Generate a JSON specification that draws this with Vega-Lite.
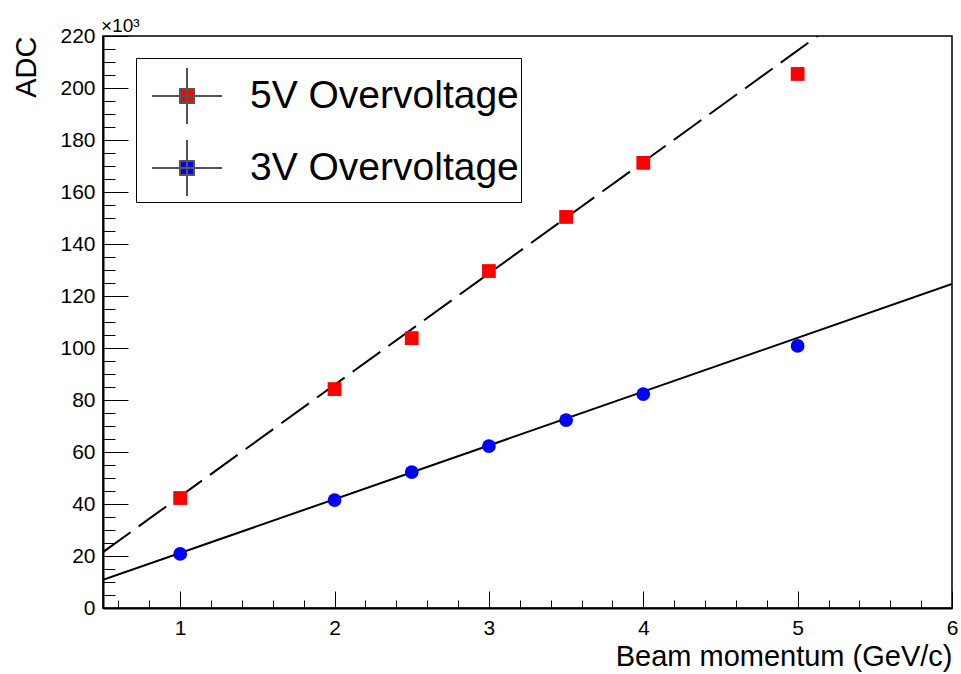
{
  "$schema": "https://vega.github.io/schema/vega-lite/v6.json",
  "width": 849,
  "height": 572,
  "autosize": {"type": "none"},
  "padding": {"left": 103, "top": 36, "right": 9, "bottom": 66},
  "background": "white",
  "title": {"text": "×10³", "anchor": "start", "frame": "group", "fontSize": 19, "font": "Liberation Sans", "fontWeight": "normal", "baseline": "alphabetic", "offset": 4, "dx": -2, "dy": 30, "color": "black"},
  "config": {"view": {"stroke": "black", "strokeWidth": 1.5}, "font": "Liberation Sans"},
  "datasets": {
    "points": [
      {"series": "5V Overvoltage", "x": 1, "y": 42.3},
      {"series": "5V Overvoltage", "x": 2, "y": 84.2},
      {"series": "5V Overvoltage", "x": 2.5, "y": 103.8},
      {"series": "5V Overvoltage", "x": 3, "y": 129.6},
      {"series": "5V Overvoltage", "x": 3.5, "y": 150.4},
      {"series": "5V Overvoltage", "x": 4, "y": 171.2},
      {"series": "5V Overvoltage", "x": 5, "y": 205.4},
      {"series": "3V Overvoltage", "x": 1, "y": 20.8},
      {"series": "3V Overvoltage", "x": 2, "y": 41.5},
      {"series": "3V Overvoltage", "x": 2.5, "y": 52.3},
      {"series": "3V Overvoltage", "x": 3, "y": 62.3},
      {"series": "3V Overvoltage", "x": 3.5, "y": 72.3},
      {"series": "3V Overvoltage", "x": 4, "y": 82.3},
      {"series": "3V Overvoltage", "x": 5, "y": 100.8}
    ],
    "fits": [
      {"series": "5V Overvoltage", "x": 0.5, "y": 21.5},
      {"series": "5V Overvoltage", "x": 5.13, "y": 220},
      {"series": "3V Overvoltage", "x": 0.5, "y": 10.8},
      {"series": "3V Overvoltage", "x": 6, "y": 124.6}
    ]
  },
  "encoding": {
    "x": {
      "field": "x", "type": "quantitative",
      "scale": {"domain": [0.5, 6], "nice": false, "zero": false},
      "axis": {
        "title": "Beam momentum (GeV/c)",
        "values": [0.6, 0.8, 1, 1.2, 1.4, 1.6, 1.8, 2, 2.2, 2.4, 2.6, 2.8, 3, 3.2, 3.4, 3.6, 3.8, 4, 4.2, 4.4, 4.6, 4.8, 5, 5.2, 5.4, 5.6, 5.8, 6],
        "labelExpr": "datum.value % 1 === 0 ? format(datum.value, 'd') : ''",
        "tickSize": {"condition": {"test": "datum.value % 1 === 0", "value": -17}, "value": -8},
        "tickColor": "black", "tickWidth": 1,
        "domainColor": "black", "domainWidth": 2,
        "labelFontSize": 21, "labelPadding": 26, "labelColor": "black", "labelFlush": false, "labelOverlap": false,
        "titleFontSize": 29, "titleFontWeight": "normal", "titleColor": "black",
        "titleX": 849, "titleY": 57, "titleAlign": "right", "titleAnchor": "end", "titleBaseline": "alphabetic",
        "grid": false
      }
    },
    "y": {
      "field": "y", "type": "quantitative",
      "scale": {"domain": [0, 220], "nice": false, "zero": false},
      "axis": {
        "title": "ADC",
        "values": [0, 5, 10, 15, 20, 25, 30, 35, 40, 45, 50, 55, 60, 65, 70, 75, 80, 85, 90, 95, 100, 105, 110, 115, 120, 125, 130, 135, 140, 145, 150, 155, 160, 165, 170, 175, 180, 185, 190, 195, 200, 205, 210, 215, 220],
        "labelExpr": "datum.value % 20 === 0 ? format(datum.value, 'd') : ''",
        "tickSize": {"condition": {"test": "datum.value % 20 === 0", "value": -25}, "value": -12},
        "tickColor": "black", "tickWidth": 1,
        "domainColor": "black", "domainWidth": 2,
        "labelFontSize": 21, "labelPadding": 33, "labelColor": "black", "labelFlush": false, "labelOverlap": false,
        "titleFontSize": 29, "titleFontWeight": "normal", "titleColor": "black",
        "titleX": -68, "titleY": 0, "titleAngle": -90, "titleAlign": "right", "titleAnchor": "end", "titleBaseline": "alphabetic",
        "grid": false
      }
    },
    "color": {
      "field": "series", "type": "nominal",
      "scale": {"domain": ["5V Overvoltage", "3V Overvoltage"], "range": ["#ff0000", "#0000ff"]},
      "legend": {
        "orient": "none", "legendX": 33, "legendY": 22, "title": null,
        "padding": 2, "strokeColor": "black", "fillColor": "white",
        "labelFontSize": 39, "labelFont": "Liberation Sans", "labelColor": "black", "labelOffset": 27, "labelLimit": 600,
        "rowPadding": 4, "symbolSize": 4900, "symbolOffset": 13,
        "symbolType": "M-1,0H1M0,-0.8V0.8M-0.2,-0.2H0.2V0.2H-0.2Z",
        "symbolStrokeColor": "#555555", "symbolStrokeWidth": 2, "symbolOpacity": 1,
        "labelExpr": "datum.label + '   '"
      }
    }
  },
  "layer": [
    {
      "data": {"name": "fits"},
      "transform": [{"filter": "datum.series === '5V Overvoltage'"}],
      "mark": {"type": "line", "color": "black", "strokeWidth": 2, "strokeDash": [34, 10], "clip": true},
      "encoding": {"color": {"value": "black"}}
    },
    {
      "data": {"name": "fits"},
      "transform": [{"filter": "datum.series === '3V Overvoltage'"}],
      "mark": {"type": "line", "color": "black", "strokeWidth": 2, "clip": true},
      "encoding": {"color": {"value": "black"}}
    },
    {
      "data": {"name": "points"},
      "transform": [{"filter": "datum.series === '5V Overvoltage'"}],
      "mark": {"type": "square", "filled": true, "size": 190, "opacity": 1}
    },
    {
      "data": {"name": "points"},
      "transform": [{"filter": "datum.series === '3V Overvoltage'"}],
      "mark": {"type": "circle", "filled": true, "size": 190, "opacity": 1}
    }
  ]
}
